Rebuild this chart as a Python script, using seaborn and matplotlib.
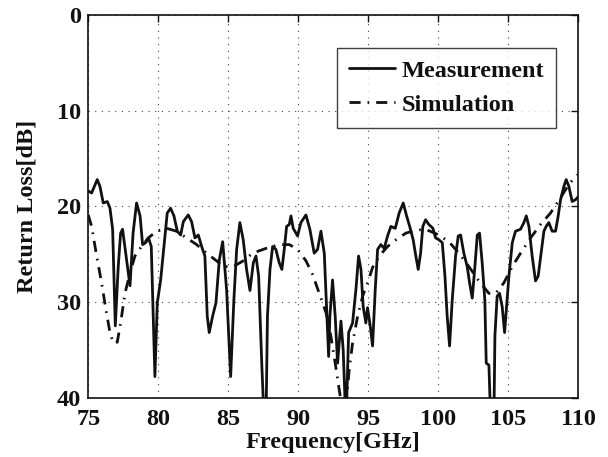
import numpy as np
import pandas as pd
import matplotlib
matplotlib.use("Agg")
import matplotlib.pyplot as plt
import seaborn as sns

meas_freq = [75.0, 75.24, 75.64, 75.83, 76.07, 76.36, 76.55, 76.74, 76.93, 77.14,
             77.31, 77.45, 77.74, 77.98, 78.2, 78.45, 78.7, 78.88, 79.1, 79.3,
             79.5, 79.76, 79.93, 80.17, 80.36, 80.64, 80.88, 81.12, 81.36, 81.6,
             81.79, 82.14, 82.38, 82.62, 82.86, 83.1, 83.33, 83.5, 83.64, 83.88,
             84.12, 84.36, 84.6, 84.88, 85.17, 85.4, 85.6, 85.83, 86.07, 86.3,
             86.55, 86.79, 86.98, 87.17, 87.4, 87.55, 87.7, 87.8, 87.98, 88.17,
             88.4, 88.64, 88.83, 89.0, 89.17, 89.36, 89.48, 89.64, 89.95, 90.19,
             90.55, 90.83, 91.14, 91.38, 91.62, 91.86, 92.02, 92.17, 92.26, 92.45,
             92.64, 92.81, 93.05, 93.21, 93.36, 93.45, 93.6, 93.88, 94.12, 94.31,
             94.48, 94.64, 94.83, 94.95, 95.14, 95.31, 95.5, 95.67, 95.9, 96.14,
             96.38, 96.62, 96.93, 97.21, 97.5, 97.74, 97.98, 98.21, 98.4, 98.57,
             98.74, 98.9, 99.1, 99.33, 99.62, 99.81, 100.05, 100.29, 100.48, 100.64,
             100.81, 101.0, 101.24, 101.43, 101.6, 101.83, 102.07, 102.24, 102.43, 102.62,
             102.79, 102.95, 103.14, 103.33, 103.43, 103.62, 103.74, 103.98, 104.05, 104.21,
             104.38, 104.57, 104.74, 104.88, 105.05, 105.29, 105.52, 105.88, 106.12, 106.29,
             106.48, 106.71, 106.95, 107.14, 107.38, 107.55, 107.71, 107.9, 108.14, 108.38,
             108.57, 108.74, 108.98, 109.14, 109.33, 109.57, 109.81, 110.0]
meas_rl = [18.4, 18.6, 17.2, 17.9, 19.65, 19.5, 20.2, 22.4, 32.5, 26.3,
           22.8, 22.4, 25.6, 28.3, 22.8, 19.65, 21.0, 24.0, 23.8, 23.3,
           24.2, 37.8, 30.1, 27.7, 24.9, 20.7, 20.2, 21.0, 22.6, 23.0,
           21.6, 20.9, 21.6, 23.3, 23.0, 24.2, 25.2, 31.5, 33.2, 31.5,
           30.1, 25.6, 23.7, 28.7, 37.8, 29.8, 24.5, 21.7, 23.5, 26.5,
           28.8, 25.9, 25.2, 27.3, 36.7, 42.0, 42.0, 31.5, 26.6, 24.2,
           24.5, 25.9, 26.6, 24.5, 22.1, 21.9, 21.0, 22.3, 23.1, 21.7,
           20.9, 22.4, 24.9, 24.5, 22.6, 24.9, 30.5, 35.7, 31.5, 27.7,
           31.5, 36.4, 32.0, 35.0, 41.0, 41.0, 33.2, 32.2, 28.7, 25.2,
           26.6, 30.5, 32.2, 30.6, 32.5, 34.6, 28.7, 24.5, 24.0, 24.4,
           23.1, 22.1, 22.3, 20.7, 19.65, 21.0, 22.2, 23.5, 25.2, 26.6,
           24.9, 22.1, 21.4, 21.9, 22.3, 23.3, 23.5, 23.8, 27.3, 31.5,
           34.6, 29.8, 25.2, 23.1, 23.0, 24.9, 26.3, 28.0, 29.6, 26.3,
           23.0, 22.8, 25.9, 29.8, 36.4, 36.6, 42.0, 42.0, 33.5, 29.4,
           29.1, 30.5, 33.2, 30.5, 27.3, 23.8, 22.6, 22.4, 21.7, 21.0,
           22.1, 25.2, 27.8, 27.3, 24.5, 22.6, 22.1, 21.7, 22.6, 22.6,
           21.0, 19.3, 17.9, 17.2, 17.9, 19.5, 19.3, 19.0]

# simulated return loss (dB)
sim_freq = [75.0, 75.24, 75.6, 75.95, 76.26, 76.55, 76.79, 77.07, 77.31, 77.62,
            77.98, 78.33, 78.8, 79.29, 79.88, 80.6, 81.3, 82.02, 82.74, 83.45,
            84.17, 84.64, 85.36, 86.07, 86.74, 87.69, 88.64, 89.36, 89.95, 90.55,
            91.02, 91.5, 91.98, 92.33, 92.64, 92.93, 93.12, 93.4, 93.64, 93.88,
            94.24, 94.6, 94.95, 95.31, 95.79, 96.38, 96.98, 97.69, 98.4, 99.1,
            100.05, 100.76, 101.48, 102.19, 102.9, 103.62, 104.1, 104.69, 105.29, 105.88,
            106.6, 107.31, 108.02, 108.74, 109.33, 109.93]
sim_rl = [20.9, 22.1, 25.2, 28.0, 30.8, 33.2, 34.3, 34.2, 32.2, 29.1,
          27.0, 25.2, 24.2, 23.3, 22.6, 22.3, 22.6, 23.3, 24.0, 24.9,
          25.7, 26.3, 26.3, 25.7, 24.9, 24.4, 24.0, 24.0, 24.5, 25.7,
          27.1, 29.1, 31.1, 33.6, 36.4, 39.2, 41.0, 41.0, 37.1, 34.3,
          31.5, 29.4, 28.0, 26.4, 25.2, 24.2, 23.5, 22.8, 22.5, 22.4,
          23.0, 23.7, 24.9, 26.3, 27.8, 29.1, 29.1, 28.0, 26.3, 24.9,
          23.3, 21.9, 20.7, 19.1, 17.7, 16.7]

x_ticks = [75, 80, 85, 90, 95, 100, 105, 110]
y_ticks = [0, 10, 20, 30, 40]

df_meas = pd.DataFrame({"freq": meas_freq, "rl": meas_rl})
df_sim = pd.DataFrame({"freq": sim_freq, "rl": sim_rl})

sns.set_theme(style="white")
plt.rcParams["font.family"] = ["Liberation Serif", "DejaVu Serif"]
plt.rcParams["font.weight"] = "bold"
plt.rcParams["axes.labelweight"] = "bold"

fig = plt.figure(figsize=(6.08, 4.57), dpi=100)
ax = fig.add_axes([0.1452, 0.13, 0.8058, 0.837])

sns.lineplot(data=df_meas, x="freq", y="rl", ax=ax, color="#111111",
             linewidth=2.0, estimator=None, label="Measurement")
sns.lineplot(data=df_sim, x="freq", y="rl", ax=ax, color="#111111",
             linewidth=2.0, estimator=None, label="Simulation")
ax.lines[1].set_dashes([4, 2.5, 0.6, 2.5])

ax.set_xlim(75, 110)
ax.set_ylim(40, 0)
ax.set_xticks(x_ticks)
ax.set_yticks(y_ticks)
ax.grid(True, linestyle=(0, (1, 5)), color="#444444", linewidth=0.8)

for s in ax.spines.values():
    s.set_color("#111111")
    s.set_linewidth(1.2)

ax.tick_params(axis="both", direction="in", length=5, width=1, color="#111111",
               top=True, right=True, labelsize=17.5, labelcolor="#111111")
ax.tick_params(axis="x", pad=8.5)
ax.tick_params(axis="y", pad=5)

ax.set_xlabel("Frequency[GHz]", fontsize=17.5, color="#111111", labelpad=1)
ax.set_ylabel("Return Loss[dB]", fontsize=17.5, color="#111111", labelpad=14)

leg = ax.legend(loc="upper right", bbox_to_anchor=(0.955, 0.915), fontsize=17.5,
                frameon=True, fancybox=False, handlelength=1.9, handletextpad=0.25,
                borderpad=0.5, labelspacing=0.5, borderaxespad=0)
leg.get_frame().set_edgecolor("#111111")
leg.get_frame().set_linewidth(1.0)
for t in leg.get_texts():
    t.set_color("#111111")

fig.savefig("out.png", dpi=100)
